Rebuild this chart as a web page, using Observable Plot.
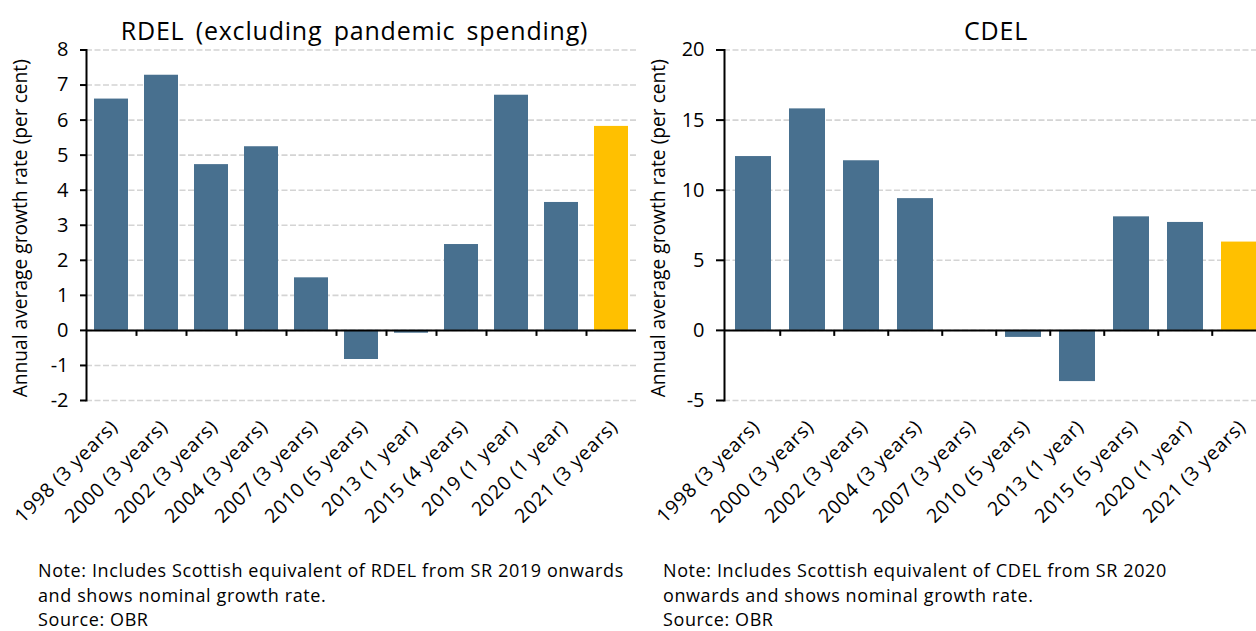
<!DOCTYPE html>
<html><head><meta charset="utf-8">
<script src="https://cdn.jsdelivr.net/npm/d3@7"></script>
<script src="https://cdn.jsdelivr.net/npm/@observablehq/plot@0.6"></script>
<style>
body{margin:0;background:#fff;}
#wrap{position:relative;width:1256px;height:631px;overflow:hidden;background:#fff;font-family:"Open Sans", sans-serif;}
.panel{position:absolute;top:0;width:640px;}
.panel svg{max-width:none !important;}
.panel [aria-description="title"] text, .panel text[aria-label="title"]{letter-spacing:0.8px;word-spacing:4px;}
.panel [aria-description="xlabels"] text, .panel text[aria-label="xlabels"]{letter-spacing:0.7px;}
.note{position:absolute;font-size:18px;line-height:24.5px;color:#000;white-space:nowrap;letter-spacing:0.6px;}
</style></head><body>
<div id="wrap">
 <div class="panel" id="left" style="left:0px"></div>
 <div class="panel" id="right" style="left:630px"></div>
 <div class="note" id="noteL" style="left:38px;top:558px"></div>
 <div class="note" id="noteR" style="left:663px;top:558px"></div>
</div>
<script>
const rdelTitle = "RDEL (excluding pandemic spending)";
const rdelCategories = ["1998 (3 years)","2000 (3 years)","2002 (3 years)","2004 (3 years)","2007 (3 years)","2010 (5 years)","2013 (1 year)","2015 (4 years)","2019 (1 year)","2020 (1 year)","2021 (3 years)"];
const rdelValues = [6.60, 7.28, 4.73, 5.24, 1.50, -0.83, -0.08, 2.45, 6.71, 3.65, 5.82];
const rdelTicks = [-2,-1,0,1,2,3,4,5,6,7,8];

const cdelTitle = "CDEL";
const cdelCategories = ["1998 (3 years)","2000 (3 years)","2002 (3 years)","2004 (3 years)","2007 (3 years)","2010 (5 years)","2013 (1 year)","2015 (5 years)","2020 (1 year)","2021 (3 years)"];
const cdelValues = [12.4, 15.8, 12.1, 9.4, 0, -0.5, -3.65, 8.1, 7.7, 6.3];
const cdelTicks = [-5,0,5,10,15,20];

const highlightCategory = "2021 (3 years)";
const yTitle = "Annual average growth rate (per cent)";
const noteLeft = ["Note: Includes Scottish equivalent of RDEL from SR 2019 onwards","and shows nominal growth rate.","Source: OBR"];
const noteRight = ["Note: Includes Scottish equivalent of CDEL from SR 2020","onwards and shows nominal growth rate.","Source: OBR"];

const blue = "#48708f", yellow = "#ffc000";

function panel({title, cats, vals, ticks, width, marginLeft, marginRight, tickSize, titleDx}) {
  const data = cats.map((c, i) => ({cat: c, value: vals[i]}));
  const height = 545, mt = 49.5, mb = 145;
  const ymin = ticks[0], ymax = ticks[ticks.length - 1];
  const tickLen = (ymax - ymin) * 6 / (height - mt - mb);
  const step = (width - marginLeft - marginRight) / cats.length;
  return Plot.plot({
    width, height, marginTop: mt, marginBottom: mb, marginLeft, marginRight,
    style: {fontFamily: "'Open Sans', sans-serif", fontSize: "19px", color: "#000", background: "transparent", overflow: "visible"},
    x: {domain: cats, paddingInner: 0.33, paddingOuter: 0.165, axis: null},
    y: {domain: [ymin, ymax], axis: null},
    marks: [
      Plot.gridY(ticks, {stroke: "#d4d4d4", strokeOpacity: 1, strokeDasharray: "6,2.5", strokeWidth: 1.6}),
      Plot.barY(data, {x: "cat", y: "value", fill: d => d.cat === highlightCategory ? yellow : blue}),
      Plot.ruleY([0], {stroke: "#000", strokeWidth: 2}),
      Plot.ruleX(cats.slice(1), {x: d => d, y1: 0, y2: -tickLen, dx: -step / 2, stroke: "#000", strokeWidth: 2}),
      Plot.axisY(ticks, {tickSize, tickPadding: 12, strokeWidth: 2, fontSize: 20, label: null, tickFormat: d => String(d)}),
      Plot.frame({anchor: "left", strokeWidth: 2, stroke: "#000"}),
      Plot.text(cats, {x: d => d, frameAnchor: "bottom", rotate: -45, textAnchor: "end", lineAnchor: "middle", dx: 3, dy: 23, fontSize: 19.5, ariaDescription: "xlabels"}),
      Plot.text([title], {frameAnchor: "top", lineAnchor: "bottom", dy: -10, dx: titleDx, fontSize: 25, ariaDescription: "title"}),
      Plot.text([yTitle], {frameAnchor: "left", rotate: -90, lineAnchor: "middle", textAnchor: "middle", dx: -66, dy: 3, fontSize: 19.2}),
    ],
    color: {type: "identity"}
  });
}

document.getElementById("left").append(panel({title: rdelTitle, cats: rdelCategories, vals: rdelValues, ticks: rdelTicks, width: 640, marginLeft: 86, marginRight: 4, tickSize: 6, titleDx: -7}));
document.getElementById("right").append(panel({title: cdelTitle, cats: cdelCategories, vals: cdelValues, ticks: cdelTicks, width: 640, marginLeft: 94, marginRight: 1, tickSize: 8, titleDx: -1}));
document.getElementById("noteL").innerHTML = noteLeft.join("<br>");
document.getElementById("noteR").innerHTML = noteRight.join("<br>");
</script>
</body></html>
